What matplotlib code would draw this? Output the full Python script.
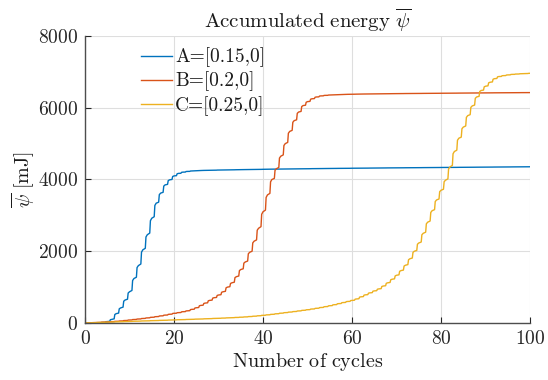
import matplotlib
matplotlib.use("Agg")
import matplotlib.pyplot as plt
import numpy as np

plt.rcParams["mathtext.fontset"] = "cm"
plt.rcParams["font.family"] = ["DejaVu Serif"]

# Accumulated energy at the end of each load cycle [mJ]
cycles = list(range(0, 101))

energy_A = [
    0, 2, 5, 8, 14, 40, 100, 260, 420, 640,
    870, 1240, 1600, 2040, 2460, 2920, 3340, 3620, 3850, 3990,
    4100, 4170, 4205, 4225, 4238, 4246, 4250, 4254, 4257, 4260,
    4263, 4266, 4268, 4270, 4272, 4274, 4276, 4278, 4280, 4282,
    4284, 4286, 4288, 4289, 4291, 4293, 4294, 4296, 4297, 4299,
    4300, 4302, 4303, 4305, 4306, 4307, 4309, 4310, 4311, 4312,
    4314, 4315, 4316, 4317, 4318, 4320, 4321, 4322, 4323, 4324,
    4325, 4326, 4327, 4328, 4329, 4330, 4331, 4332, 4333, 4334,
    4335, 4336, 4337, 4338, 4339, 4340, 4341, 4342, 4343, 4344,
    4345, 4346, 4347, 4348, 4349, 4350, 4351, 4352, 4353, 4354,
    4355,
]

energy_B = [
    0, 5, 11, 17, 24, 30, 38, 47, 57, 70,
    84, 98, 112, 127, 143, 160, 178, 198, 220, 244,
    270, 290, 315, 340, 380, 425, 490, 555, 630, 705,
    780, 870, 1000, 1120, 1290, 1490, 1700, 1970, 2280, 2640,
    3100, 3570, 4000, 4300, 4650, 5000, 5340, 5640, 5880, 6060,
    6170, 6250, 6300, 6330, 6345, 6355, 6362, 6367, 6371, 6374,
    6377, 6379, 6381, 6383, 6385, 6386, 6388, 6389, 6391, 6392,
    6393, 6395, 6396, 6397, 6398, 6399, 6400, 6401, 6402, 6403,
    6404, 6405, 6406, 6407, 6408, 6409, 6410, 6411, 6412, 6413,
    6414, 6415, 6416, 6417, 6417, 6418, 6419, 6420, 6421, 6421,
    6422,
]

energy_C = [
    0, 4, 9, 14, 19, 24, 28, 32, 36, 40,
    45, 49, 53, 57, 61, 65, 69, 73, 77, 82,
    87, 91, 95, 99, 103, 108, 112, 117, 122, 127,
    132, 137, 143, 149, 155, 162, 170, 180, 190, 202,
    215, 228, 242, 258, 274, 290, 305, 320, 337, 354,
    371, 390, 410, 432, 456, 482, 510, 540, 570, 600,
    630, 670, 730, 785, 840, 895, 950, 1030, 1120, 1220,
    1330, 1460, 1610, 1790, 2000, 2230, 2500, 2810, 3130, 3430,
    3700, 3980, 4350, 4780, 5150, 5460, 5780, 6050, 6300, 6480,
    6600, 6710, 6810, 6870, 6895, 6915, 6930, 6940, 6948, 6954,
    6960,
]

labels = ["A=[0.15,0]", "B=[0.2,0]", "C=[0.25,0]"]
colors = ["#0072BD", "#D95319", "#EDB120"]

x_ticks = [0, 20, 40, 60, 80, 100]
y_ticks = [0, 2000, 4000, 6000, 8000]


def cycle_trace(cyc, vals):
    """Within each cycle the energy creeps up, then jumps at the loading peak."""
    xs, ys = [], []
    for k in range(len(vals) - 1):
        c, v0, v1 = cyc[k], vals[k], vals[k + 1]
        dv = v1 - v0
        xs += [c, c + 0.55, c + 0.7]
        ys += [v0, v0 + 0.1 * dv, v0 + 0.85 * dv]
    xs.append(cyc[-1])
    ys.append(vals[-1])
    return np.array(xs), np.array(ys)


fig = plt.figure(figsize=(5.48, 3.80), dpi=100)
ax = fig.add_axes([0.1551, 0.15, 0.8121, 0.7553])

for vals, lab, col in zip([energy_A, energy_B, energy_C], labels, colors):
    xs, ys = cycle_trace(cycles, vals)
    ax.plot(xs, ys, color=col, lw=1.0, label=lab)

ax.set_xlim(0, 100)
ax.set_ylim(0, 8000)
ax.set_xticks(x_ticks)
ax.set_yticks(y_ticks)
ax.set_xticklabels([rf"${t}$" for t in x_ticks])
ax.set_yticklabels([rf"${t}$" for t in y_ticks])
ax.tick_params(direction="in", length=4, width=0.8, colors="#262626",
               labelsize=14, pad=5)
ax.grid(True, color="#dedede", lw=0.8)
ax.set_axisbelow(True)
for side in ["top", "right"]:
    ax.spines[side].set_visible(False)
for side in ["left", "bottom"]:
    ax.spines[side].set_color("#4d4d4d")
    ax.spines[side].set_linewidth(1.0)

ax.set_title(r"$\mathrm{Accumulated\ energy}\ \overline{\psi}$", fontsize=15,
             color="#1a1a1a", pad=6)
ax.set_xlabel(r"$\mathrm{Number\ of\ cycles}$", fontsize=14.5, color="#1a1a1a",
              labelpad=2)
ax.set_ylabel(r"$\overline{\psi}\ \mathrm{[mJ]}$", fontsize=14.5, color="#1a1a1a",
              labelpad=1)

leg = ax.legend(loc="upper left", bbox_to_anchor=(0.1, 1.0), frameon=False,
                prop={"family": "cmr10", "size": 14}, handlelength=1.6,
                handletextpad=0.15, labelspacing=0.22, borderaxespad=0.2)
for t in leg.get_texts():
    t.set_color("#1a1a1a")

fig.savefig("out.png", dpi=100)
